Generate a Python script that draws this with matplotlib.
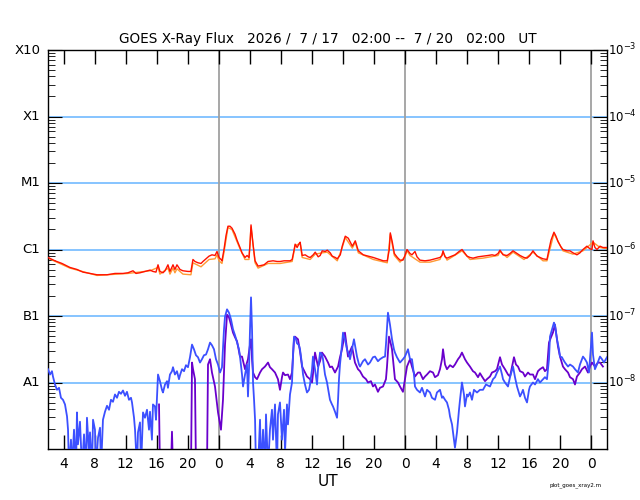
import numpy as np
import matplotlib
matplotlib.use("Agg")
import matplotlib.pyplot as plt
from matplotlib.ticker import LogLocator, NullFormatter, FixedLocator

plt.rcParams['font.family'] = ['DejaVu Sans']

# time: hours since 2026-07-17 00:00 UT ; values: log10 of flux (W/m2)
# 1-8 A, primary
long_t = [2.00, 2.90, 3.80, 4.83, 5.73, 6.50, 7.41, 8.31, 9.60, 10.63, 11.66, 12.30, 12.95, 13.33,
          13.85, 14.49, 15.14, 15.52, 15.91, 16.17, 16.42, 16.81, 17.07, 17.45, 17.71, 18.10, 18.35,
          18.61, 19.00, 19.38, 20.03, 20.41, 20.67, 20.93, 21.32, 21.71, 21.96, 22.35, 22.74, 23.12,
          23.51, 23.77, 24.03, 24.28, 24.41, 24.67, 24.93, 25.18, 25.44, 25.70, 26.09, 26.35, 26.73,
          26.99, 27.38, 27.64, 27.89, 28.02, 28.15, 28.28, 28.41, 28.67, 29.06, 29.44, 29.83, 30.35,
          30.99, 31.51, 31.90, 32.41, 32.80, 33.19, 33.45, 33.71, 33.83, 34.09, 34.35, 34.48, 34.74,
          35.13, 35.51, 35.77, 36.16, 36.42, 36.80, 37.06, 37.32, 37.71, 37.97, 38.35, 38.61, 39.00,
          39.26, 39.65, 39.90, 40.29, 40.68, 40.94, 41.20, 41.58, 41.97, 42.61, 43.26, 43.90, 44.42,
          45.19, 45.70, 45.96, 46.09, 46.35, 46.61, 47.00, 47.34, 47.72, 47.98, 48.24, 48.63, 48.88,
          49.27, 49.53, 49.91, 50.56, 51.20, 51.85, 52.49, 52.75, 52.88, 53.14, 53.40, 53.79, 54.43,
          54.95, 55.33, 55.72, 55.98, 56.36, 56.75, 57.39, 58.03, 58.68, 59.19, 59.58, 59.97, 60.22,
          60.61, 61.13, 61.51, 61.90, 62.41, 62.80, 63.31, 63.70, 64.08, 64.47, 64.73, 64.99, 65.37,
          65.76, 66.27, 66.53, 66.79, 67.17, 67.43, 67.69, 68.07, 68.33, 68.85, 69.23, 69.62, 70.13,
          70.52, 70.91, 71.42, 71.81, 72.07, 72.20, 72.45, 72.71, 73.10, 73.48, 74.00]
long_lg = [-6.12, -6.17, -6.21, -6.27, -6.30, -6.34, -6.36, -6.38, -6.38, -6.36, -6.36, -6.35, -6.32, -6.36,
           -6.35, -6.33, -6.31, -6.33, -6.34, -6.23, -6.33, -6.35, -6.32, -6.23, -6.33, -6.23, -6.30,
           -6.23, -6.30, -6.32, -6.33, -6.33, -6.15, -6.18, -6.20, -6.21, -6.18, -6.14, -6.10, -6.08,
           -6.09, -6.03, -6.12, -6.15, -6.17, -6.00, -5.79, -5.65, -5.65, -5.68, -5.77, -5.86, -5.97,
           -6.05, -6.12, -6.09, -6.12, -5.92, -5.63, -5.78, -5.92, -6.17, -6.25, -6.24, -6.23, -6.18,
           -6.17, -6.18, -6.18, -6.17, -6.17, -6.17, -6.15, -6.00, -5.92, -5.97, -5.91, -5.89, -6.09,
           -6.08, -6.11, -6.12, -6.08, -6.04, -6.11, -6.09, -6.02, -6.03, -6.01, -6.05, -6.10, -6.12,
           -6.14, -6.08, -5.95, -5.80, -5.83, -5.89, -5.95, -5.87, -6.02, -6.08, -6.10, -6.12, -6.14,
           -6.17, -6.17, -6.00, -5.75, -5.89, -6.06, -6.12, -6.16, -6.16, -6.09, -6.00, -6.06, -6.08,
           -6.03, -6.11, -6.16, -6.17, -6.16, -6.14, -6.12, -6.09, -6.02, -6.11, -6.13, -6.11, -6.08,
           -6.03, -6.00, -6.06, -6.10, -6.12, -6.13, -6.11, -6.10, -6.09, -6.08, -6.09, -6.06, -6.01,
           -6.08, -6.09, -6.06, -6.02, -6.06, -6.09, -6.12, -6.13, -6.09, -6.02, -6.06, -6.10, -6.12,
           -6.14, -6.15, -6.00, -5.86, -5.74, -5.80, -5.88, -5.96, -6.00, -6.02, -6.02, -6.05, -6.08,
           -6.05, -6.00, -5.95, -5.99, -6.00, -5.87, -5.97, -6.00, -5.95, -5.97, -5.97]

# 1-8 A, secondary
long2_t = [2.0, 4.83, 8.31, 12.3, 15.14, 16.17, 16.42, 17.45, 17.71, 18.10, 18.35, 18.61, 19.38, 20.41,
           20.67, 21.71, 22.74, 23.51, 23.77, 24.03, 24.41, 24.67, 25.18, 25.70, 26.73, 27.38, 27.89,
           28.15, 28.67, 29.06, 30.35, 31.9, 33.45, 33.83, 34.48, 34.74, 35.77, 36.42, 37.32, 37.97,
           39.26, 39.9, 40.29, 41.2, 41.58, 41.97, 43.9, 45.7, 46.09, 46.61, 47.34, 47.98, 48.24, 48.63,
           49.91, 51.2, 52.49, 52.88, 53.4, 55.33, 56.36, 58.03, 59.97, 60.22, 61.13, 61.9, 63.31,
           64.47, 65.76, 66.27, 67.17, 68.33, 69.62, 70.91, 71.42, 72.2, 73.10, 74.0]
long2_lg = [-6.13, -6.28, -6.39, -6.36, -6.32, -6.27, -6.37, -6.28, -6.37, -6.28, -6.35, -6.29, -6.37, -6.38,
            -6.20, -6.26, -6.15, -6.14, -6.08, -6.17, -6.21, -6.04, -5.67, -5.70, -5.99, -6.15, -6.15,
            -5.66, -6.20, -6.28, -6.21, -6.21, -6.18, -5.94, -5.91, -6.12, -6.15, -6.07, -6.05, -6.04,
            -6.17, -5.97, -5.82, -5.98, -5.89, -6.05, -6.15, -6.20, -5.77, -6.09, -6.19, -6.11, -6.02, -6.09,
            -6.19, -6.19, -6.15, -6.04, -6.16, -6.02, -6.15, -6.13, -6.09, -6.03, -6.12, -6.04, -6.15,
            -6.04, -6.17, -6.17, -5.76, -6.02, -6.07, -6.02, -5.97, -5.89, -5.97, -5.99]

# 0.5-4 A, primary  (-9.3 = below the plot)
short_t = [2.00, 2.26, 2.51, 2.64, 2.90, 3.16, 3.42, 3.67, 3.93, 4.19, 4.45, 4.58, 4.70, 4.96, 5.09, 5.35,
           5.61, 5.73, 5.86, 6.12, 6.38, 6.64, 6.89, 7.02, 7.28, 7.41, 7.67, 7.80, 8.05, 8.18, 8.44, 8.70,
           8.83, 9.08, 9.34, 9.60, 9.86, 10.11, 10.37, 10.63, 10.89, 11.14, 11.40, 11.66, 11.92, 12.17,
           12.43, 12.69, 12.82, 13.08, 13.21, 13.46, 13.59, 13.85, 13.98, 14.24, 14.49, 14.75, 15.01,
           15.14, 15.39, 15.52, 15.78, 15.91, 16.17, 16.42, 16.68, 16.81, 17.07, 17.33, 17.45, 17.71,
           17.97, 18.10, 18.35, 18.61, 18.87, 19.00, 19.26, 19.52, 19.77, 20.03, 20.29, 20.55, 20.80,
           21.06, 21.32, 21.58, 21.83, 22.09, 22.35, 22.61, 22.87, 23.12, 23.38, 23.64, 23.90, 24.16,
           24.41, 24.67, 24.80, 25.06, 25.31, 25.57, 25.83, 26.09, 26.35, 26.60, 26.73, 26.99, 27.12,
           27.38, 27.63, 27.76, 27.89, 28.02, 28.15, 28.28, 28.41, 28.54, 28.67, 28.79, 29.05, 29.31,
           29.44, 29.70, 29.95, 30.08, 30.34, 30.59, 30.85, 30.98, 31.24, 31.50, 31.62, 31.88, 32.14,
           32.40, 32.53, 32.78, 32.91, 33.17, 33.43, 33.56, 33.69, 33.94, 34.07, 34.33, 34.46, 34.72,
           34.85, 35.10, 35.36, 35.62, 35.75, 36.01, 36.13, 36.39, 36.65, 36.78, 37.04, 37.29, 37.42,
           37.68, 37.94, 38.20, 38.32, 38.58, 38.71, 38.97, 39.23, 39.36, 39.48, 39.61, 39.87, 40.00,
           40.25, 40.51, 40.77, 40.90, 41.16, 41.41, 41.67, 41.80, 42.06, 42.19, 42.57, 42.83, 43.22,
           43.47, 43.86, 44.12, 44.50, 44.76, 45.15, 45.41, 45.53, 45.79, 46.05, 46.31, 46.56, 46.69,
           46.95, 47.34, 47.72, 47.98, 48.37, 48.63, 48.88, 49.14, 49.27, 49.53, 49.91, 50.17, 50.56,
           50.82, 51.20, 51.46, 51.85, 52.10, 52.49, 52.75, 52.88, 53.14, 53.39, 53.65, 53.78, 54.04,
           54.17, 54.29, 54.42, 54.55, 54.68, 54.94, 55.07, 55.32, 55.58, 55.71, 55.97, 56.10, 56.35,
           56.61, 56.87, 57.26, 57.64, 58.03, 58.41, 58.93, 59.32, 59.58, 59.83, 60.22, 60.48, 60.61,
           60.86, 61.25, 61.51, 61.90, 62.15, 62.41, 62.80, 63.05, 63.18, 63.44, 63.70, 63.96, 64.08,
           64.47, 64.73, 65.11, 65.37, 65.76, 66.01, 66.27, 66.53, 66.66, 66.92, 67.17, 67.30, 67.56,
           67.82, 67.95, 68.20, 68.33, 68.59, 68.98, 69.24, 69.62, 69.88, 70.26, 70.52, 70.91, 71.17,
           71.42, 71.68, 71.81, 72.07, 72.20, 72.45, 72.71, 73.10, 73.36, 73.61, 74.00]
short_lg = [-7.80, -7.88, -7.83, -7.91, -8.03, -8.11, -8.08, -8.23, -8.26, -8.33, -8.51, -8.71, -9.3, -8.86,
            -9.3, -8.71, -9.3, -8.45, -8.93, -8.59, -9.3, -8.78, -9.3, -8.53, -9.05, -8.75, -9.3, -8.56,
            -8.71, -9.3, -8.83, -8.68, -9.3, -8.56, -8.44, -8.35, -8.41, -8.26, -8.29, -8.18, -8.23,
            -8.14, -8.17, -8.12, -8.20, -8.14, -8.26, -8.23, -8.30, -8.53, -8.71, -9.3, -8.75, -8.60,
            -9.3, -8.45, -8.53, -8.41, -8.71, -8.44, -8.86, -8.33, -8.36, -8.56, -7.88, -7.98, -8.11,
            -8.15, -8.03, -7.98, -8.08, -7.88, -7.83, -7.77, -7.88, -7.83, -7.95, -7.89, -7.80, -7.83,
            -7.74, -7.77, -7.62, -7.43, -7.50, -7.59, -7.62, -7.70, -7.65, -7.59, -7.58, -7.50, -7.40,
            -7.44, -7.50, -7.65, -7.73, -7.85, -7.77, -7.20, -7.01, -6.90, -6.95, -7.05, -7.20, -7.29,
            -7.40, -7.50, -7.61, -7.88, -8.06, -7.88, -7.73, -8.21, -7.80, -7.20, -6.72, -7.20, -8.00,
            -8.26, -8.56, -9.3, -9.3, -8.56, -9.3, -8.71, -9.3, -8.48, -9.3, -8.71, -8.41, -8.86, -8.33,
            -9.3, -8.48, -8.30, -8.86, -8.41, -9.05, -8.33, -8.63, -8.18, -8.00, -7.58, -7.31, -7.35,
            -7.41, -7.44, -7.50, -7.73, -7.88, -8.03, -8.15, -8.11, -8.03, -7.80, -7.61, -7.80, -8.03,
            -7.80, -7.55, -7.58, -7.65, -7.88, -8.00, -8.18, -8.26, -8.33, -8.36, -8.44, -8.53, -8.26,
            -7.95, -7.73, -7.43, -7.25, -7.35, -7.50, -7.58, -7.65, -7.50, -7.35, -7.53, -7.61, -7.73,
            -7.76, -7.68, -7.65, -7.73, -7.70, -7.62, -7.61, -7.68, -7.65, -7.62, -7.61, -7.43, -6.95,
            -7.13, -7.35, -7.50, -7.55, -7.62, -7.70, -7.65, -7.61, -7.50, -7.65, -7.65, -7.88, -8.06,
            -8.11, -8.15, -8.08, -8.21, -8.11, -8.15, -8.23, -8.26, -8.15, -8.11, -8.23, -8.21, -8.26,
            -8.30, -8.41, -8.51, -8.63, -8.75, -8.86, -8.98, -8.86, -8.75, -8.41, -8.26, -8.00, -8.18,
            -8.36, -8.18, -8.21, -8.15, -8.26, -8.11, -8.15, -8.11, -8.11, -8.03, -8.06, -7.95, -7.92,
            -7.85, -7.76, -7.88, -7.95, -8.00, -8.06, -7.92, -7.76, -7.92, -8.06, -8.21, -8.15, -8.11,
            -8.23, -8.30, -8.11, -8.06, -8.00, -8.03, -7.95, -8.00, -7.95, -7.92, -7.95, -7.65, -7.31,
            -7.20, -7.10, -7.14, -7.35, -7.50, -7.61, -7.62, -7.65, -7.70, -7.76, -7.73, -7.76, -7.80,
            -7.85, -7.73, -7.61, -7.65, -7.70, -7.85, -7.65, -7.25, -7.58, -7.80, -7.73, -7.61, -7.65,
            -7.70, -7.62]

# 0.5-4 A, secondary
short2_t = [16.30, 16.42, 17.84, 17.97, 18.10, 20.42, 20.55, 20.68, 20.93, 21.06, 22.48, 22.61, 22.87,
            23.12, 23.51, 23.90, 24.28, 24.54, 24.80, 25.06, 25.31, 25.57, 25.83, 26.09, 26.35, 26.73,
            26.99, 27.38, 27.76, 28.02, 28.15, 28.28, 28.41, 28.67, 28.92, 29.31, 29.57, 29.95, 30.34,
            30.59, 30.85, 31.24, 31.62, 31.88, 32.14, 32.27, 32.53, 32.91, 33.17, 33.43, 33.69, 33.81,
            34.20, 34.46, 34.72, 35.10, 35.36, 35.75, 36.01, 36.26, 36.39, 36.78, 37.04, 37.29, 37.68,
            38.07, 38.32, 38.58, 38.97, 39.36, 39.61, 39.87, 40.25, 40.64, 40.90, 41.16, 41.54, 41.93,
            42.19, 42.57, 42.96, 43.22, 43.60, 43.86, 44.12, 44.50, 44.76, 45.15, 45.53, 45.66, 45.92,
            46.18, 46.31, 46.56, 46.69, 47.08, 47.34, 47.72, 47.98, 48.24, 48.63, 48.88, 49.27, 49.66,
            49.91, 50.30, 50.56, 50.82, 51.20, 51.59, 51.85, 52.23, 52.49, 52.75, 52.88, 53.14, 53.39,
            53.78, 54.16, 54.42, 54.81, 55.07, 55.32, 55.71, 55.97, 56.35, 56.74, 57.00, 57.39, 57.64,
            57.90, 58.29, 58.54, 58.93, 59.19, 59.58, 59.83, 60.22, 60.48, 60.86, 61.25, 61.51, 61.76,
            62.02, 62.28, 62.54, 62.80, 63.18, 63.44, 63.83, 64.08, 64.47, 64.73, 65.11, 65.37, 65.76,
            66.01, 66.27, 66.53, 66.79, 67.04, 67.30, 67.56, 67.69, 67.95, 68.33, 68.59, 68.98, 69.24,
            69.62, 69.88, 70.13, 70.52, 70.78, 71.17, 71.55, 71.81, 72.07, 72.45, 72.84, 73.10, 73.48]
short2_lg = [-8.33, -9.3, -9.3, -8.74, -9.3, -9.3, -7.70, -7.80, -7.95, -9.3, -9.3, -7.73, -7.65,
             -7.85, -8.06, -8.45, -8.71, -8.26, -7.43, -6.98, -7.02, -7.13, -7.25, -7.32, -7.38, -7.61,
             -7.61, -7.80, -7.65, -7.43, -7.35, -7.65, -7.85, -7.92, -7.95, -7.85, -7.80, -7.76, -7.70,
             -7.77, -7.80, -7.85, -7.95, -8.11, -7.92, -7.85, -7.89, -7.88, -7.95, -7.85, -7.35, -7.31,
             -7.35, -7.53, -7.76, -7.85, -7.91, -7.95, -8.00, -7.73, -7.55, -7.76, -7.68, -7.55, -7.61,
             -7.70, -7.77, -7.76, -7.85, -7.76, -7.62, -7.50, -7.25, -7.61, -7.53, -7.46, -7.70, -7.80,
             -7.83, -7.91, -7.95, -8.00, -7.98, -8.06, -8.03, -8.14, -8.08, -8.06, -7.95, -7.77, -7.31,
             -7.43, -7.50, -7.80, -7.95, -8.00, -8.06, -8.14, -7.95, -7.76, -7.65, -7.76, -7.91, -7.85,
             -7.85, -7.95, -7.91, -7.88, -7.83, -7.85, -7.92, -7.89, -7.80, -7.65, -7.50, -7.73, -7.80,
             -7.74, -7.77, -7.73, -7.65, -7.61, -7.55, -7.65, -7.70, -7.76, -7.83, -7.85, -7.92, -7.86,
             -7.91, -7.98, -7.95, -7.91, -7.85, -7.83, -7.80, -7.62, -7.73, -7.80, -7.88, -7.91, -7.77,
             -7.62, -7.73, -7.76, -7.83, -7.85, -7.91, -7.85, -7.88, -7.88, -7.95, -7.83, -7.80, -7.77,
             -7.83, -7.80, -7.40, -7.32, -7.25, -7.13, -7.35, -7.46, -7.61, -7.76, -7.80, -7.85, -7.92,
             -7.95, -8.03, -7.91, -7.85, -7.80, -7.76, -7.85, -7.76, -7.70, -7.76, -7.70, -7.70, -7.76]

cls_names = ["A1", "B1", "C1", "M1", "X1", "X10"]
cls_levels = [1e-8, 1e-7, 1e-6, 1e-5, 1e-4, 1e-3]
right_labels = ["$10^{-8}$", "$10^{-7}$", "$10^{-6}$", "$10^{-5}$", "$10^{-4}$", "$10^{-3}$"]
hour_ticks = list(range(4, 73, 4))
midnights = [24, 48, 72]

fig = plt.figure(figsize=(6.4, 5.0), dpi=100)
ax = fig.add_axes([0.075, 0.102, 0.8734, 0.798])

for y in cls_levels:
    ax.axhline(y, color="#66b4ff", lw=1.1, zorder=1)
for m in midnights:
    ax.axvline(m, color="#a0a0a0", lw=1.3, zorder=1)

ax.plot(long2_t, 10 ** np.array(long2_lg), color="#ff9933", lw=1.0, zorder=2)
ax.plot(long_t, 10 ** np.array(long_lg), color="#ff1100", lw=1.0, zorder=3)
ax.plot(short2_t, 10 ** np.array(short2_lg), color="#6a00cc", lw=1.3, zorder=2)
ax.plot(short_t, 10 ** np.array(short_lg), color="#3c50ff", lw=1.3, zorder=3)

ax.set_yscale("log")
ax.set_ylim(1e-9, 1e-3)
ax.set_xlim(2, 74)

ax.set_xticks(hour_ticks)
ax.set_xticklabels([str(h % 24) for h in hour_ticks])
ax.tick_params(axis="x", direction="in", length=10, top=True, width=1, labelsize=10, pad=6)
ax.yaxis.set_major_locator(FixedLocator(cls_levels))
ax.yaxis.set_minor_locator(LogLocator(base=10, subs=np.arange(2, 10)))
ax.yaxis.set_minor_formatter(NullFormatter())
ax.set_yticklabels([])
ax.tick_params(axis="y", which="major", direction="in", length=10, left=True, right=True)
ax.tick_params(axis="y", which="minor", direction="in", length=5, left=True, right=True)

for name, lev, rl in zip(cls_names, cls_levels, right_labels):
    ax.text(-0.014, lev, name, transform=ax.get_yaxis_transform(), ha="right", va="center", fontsize=9.5)
    ax.text(1.001, lev, rl, transform=ax.get_yaxis_transform(), ha="left", va="center", fontsize=8.5)

for s in ax.spines.values():
    s.set_linewidth(1.0)

ax.set_xlabel("UT", fontsize=11, labelpad=2)
ax.set_title("GOES X-Ray Flux   2026 /  7 / 17   02:00 --  7 / 20   02:00   UT", fontsize=9.8, pad=5)
fig.text(0.9, 0.028, "plot_goes_xray2.m", fontsize=4, ha="center")

fig.savefig("out.png", dpi=100)
